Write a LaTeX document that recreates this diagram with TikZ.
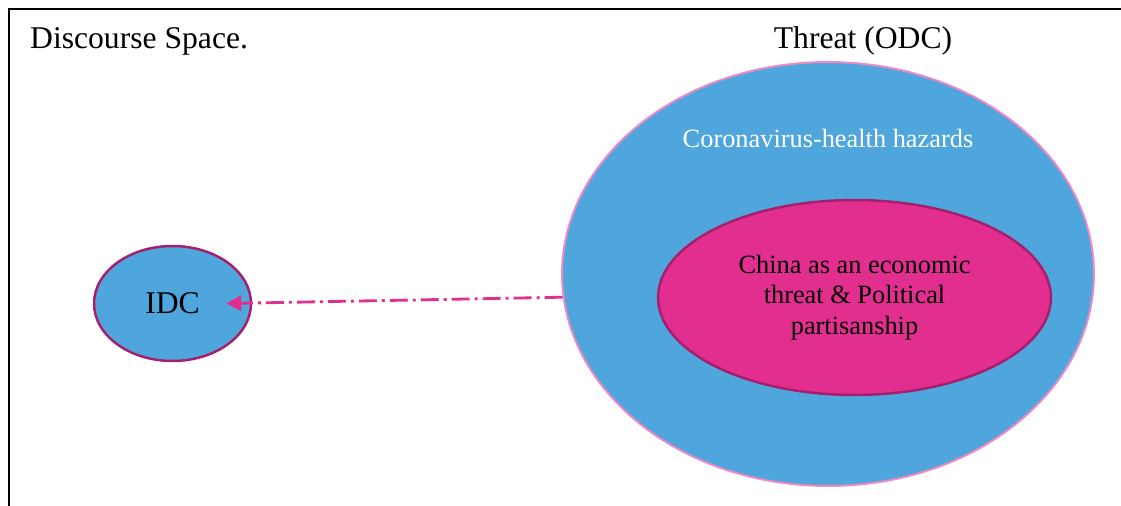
\documentclass[tikz,border=0pt]{standalone}
\usepackage{fontspec}
\setmainfont{Liberation Serif}
\usetikzlibrary{shapes.geometric,arrows.meta}
\definecolor{skyblue}{HTML}{4FA6DC}
\definecolor{hotpink}{HTML}{E22E8F}
\definecolor{rimpink}{HTML}{F088C4}
\definecolor{plum}{HTML}{A51F6C}

\begin{document}
\begin{tikzpicture}[
    x=0.02cm, y=-0.02cm,
    zone/.style={ellipse, draw, fill=skyblue, line width=1.4pt, inner sep=0pt},
    title/.style={font=\fontsize{18}{21}\selectfont},
    note/.style={font=\fontsize{15}{17.3}\selectfont},
    link/.style={-{Triangle[length=0.3cm, width=0.3cm]}, hotpink, line width=1.6pt,
        dash pattern=on 0.36cm off 0.1cm on 0.06cm off 0.1cm}
]
\useasboundingbox (0,0) rectangle (1121,506);

% Frame of the discourse space
\draw[line width=0.8pt] (9,506) -- (9,9) -- (1121,9);

% Headings
\node[title, anchor=base west] (space) at (24,49) {Discourse Space.};
\node[title, anchor=base] (threat) at (863,49) {Threat (ODC)};

% Outside deictic centre
\node[zone, draw=rimpink, line width=1.1pt, minimum width=10.64cm, minimum height=8.48cm] (odc) at (828,274) {};
\node[note, text=white, anchor=base] (hazards) at (828,148) {Coronavirus-health hazards};
\node[zone, draw=plum, fill=hotpink, note, align=center, minimum width=7.86cm, minimum height=3.9cm] (china) at (854.5,297.5)
    {China as an economic\\threat \& Political\\partisanship};

% Inside deictic centre
\node[zone, draw=plum, title, minimum width=3.14cm, minimum height=2.3cm] (idc) at (172.5,303.5) {IDC};
\coordinate (idctip) at ([xshift=-0.52cm]idc.east);

% Proximization
\draw[link] (odc.185) -- (idctip);
\end{tikzpicture}
\end{document}
